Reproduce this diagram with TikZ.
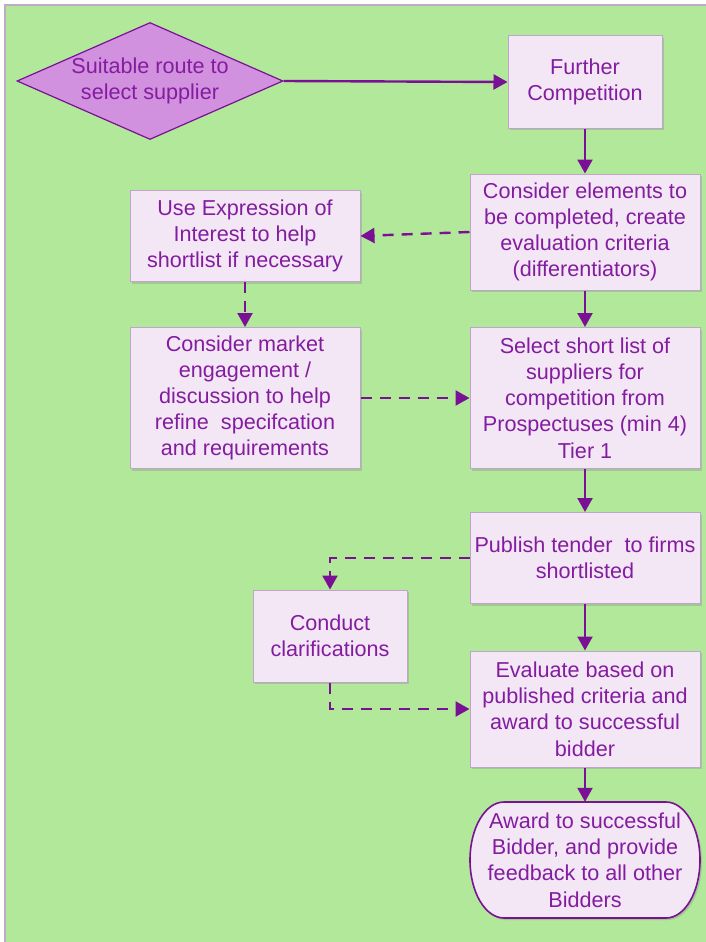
\documentclass[tikz,border=0pt]{standalone}
\usepackage{fontspec}
\setmainfont{Liberation Sans}
\usetikzlibrary{arrows.meta,shapes.geometric,shadows}
\definecolor{bggreen}{RGB}{178,232,154}
\definecolor{frameline}{RGB}{188,172,198}
\definecolor{boxfill}{RGB}{243,231,246}
\definecolor{boxline}{RGB}{192,164,204}
\definecolor{purp}{RGB}{122,16,150}
\definecolor{txt}{RGB}{132,28,160}
\definecolor{dfill}{RGB}{210,145,222}
\tikzset{
  box/.style={rectangle, draw=boxline, line width=1pt, fill=boxfill, text=txt,
    align=center, inner sep=0pt, font=\fontsize{21.6}{26.2}\selectfont,
    drop shadow={shadow xshift=2pt, shadow yshift=-2pt, opacity=0.3}},
  termtext/.style={rectangle, text=txt, align=center, inner sep=0pt,
    font=\fontsize{21.6}{26.2}\selectfont},
  decision/.style={diamond, draw=purp, line width=1.2pt, fill=dfill, text=txt,
    align=center, inner sep=0pt, aspect=2.27, font=\fontsize{21.6}{26.2}\selectfont,
    minimum width=266pt, minimum height=117pt},
  arr/.style={draw=purp, line width=2.4pt, -{Triangle[length=14pt,width=15pt]}},
  darr/.style={arr, dash pattern=on 11pt off 8pt},
}
\begin{document}
\begin{tikzpicture}[x=1pt,y=-1pt]
\useasboundingbox (0,0) rectangle (706,942);
\clip (0,0) rectangle (706,942);
\fill[white] (0,0) rectangle (706,942);
\fill[bggreen] (5,5) rectangle (720,960);
\draw[frameline, line width=1.5pt] (5,960) -- (5,5) -- (720,5);

\node[decision] (dec) at (150,81) {Suitable route to\\select supplier};
\node[box, minimum width=154pt, minimum height=92pt] (fc) at (585,82) {Further\\Competition};
\node[box, minimum width=230pt, minimum height=116pt] (ce) at (585,232) {Consider elements to\\be completed, create\\evaluation criteria\\(differentiators)};
\node[box, minimum width=230pt, minimum height=91pt] (ue) at (245,236) {Use Expression of\\Interest to help\\shortlist if necessary};
\node[box, minimum width=230pt, minimum height=141pt] (cm) at (245,398) {Consider market\\engagement /\\discussion to help\\refine~ specifcation\\and requirements};
\node[box, minimum width=230pt, minimum height=141pt] (ss) at (585,398) {Select short list of\\suppliers for\\competition from\\Prospectuses (min 4)\\Tier 1};
\node[box, minimum width=230pt, minimum height=91pt] (pt) at (585,558) {Publish tender~ to firms\\shortlisted};
\node[box, minimum width=154pt, minimum height=92pt] (cc) at (330,636) {Conduct\\clarifications};
\node[box, minimum width=230pt, minimum height=116pt] (ev) at (585,709) {Evaluate based on\\published criteria and\\award to successful\\bidder};

% terminal with elliptical ends
\path[draw=purp, line width=1.6pt, fill=boxfill,
      drop shadow={shadow xshift=2pt, shadow yshift=-2pt, opacity=0.3}]
  (504,802) -- (666,802)
  arc[start angle=90, end angle=-90, x radius=34pt, y radius=58pt]
  -- (504,918)
  arc[start angle=270, end angle=90, x radius=34pt, y radius=58pt] -- cycle;
\node[termtext, minimum width=232pt, minimum height=116pt] (aw) at (585,860) {Award to successful\\Bidder, and provide\\feedback to all other\\Bidders};

\draw[arr] (dec.east) -- (fc.west);
\draw[arr] (fc.south) -- (ce.north);
\draw[darr] (ce.west) -- (ue.east);
\draw[darr] (ue.south) -- (cm.north);
\draw[arr] (ce.south) -- (ss.north);
\draw[darr] (cm.east) -- (ss.west);
\draw[arr] (ss.south) -- (pt.north);
\draw[darr] (pt.west) -| (cc.north);
\draw[arr] (pt.south) -- (ev.north);
\draw[darr] (cc.south) |- (ev.west);
\draw[arr] (ev.south) -- (aw.north);
\end{tikzpicture}
\end{document}
